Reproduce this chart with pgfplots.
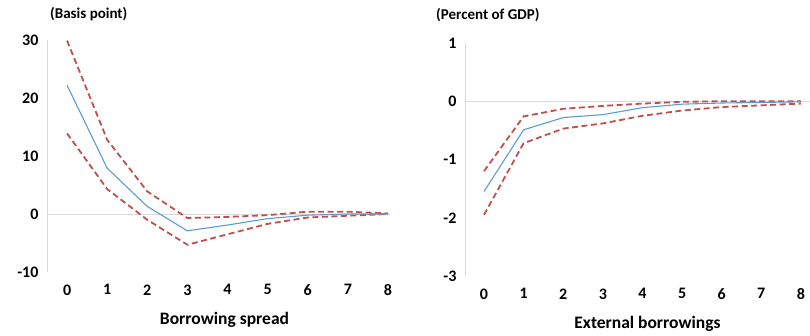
\documentclass[border=0pt]{standalone}
\usepackage{pgfplots}
\pgfplotsset{compat=1.18}
\usepackage{fontspec}
\setmainfont{Carlito}
\definecolor{cblue}{RGB}{91,155,213}
\definecolor{cred}{RGB}{192,80,77}
\definecolor{cgray}{RGB}{217,217,217}
\pgfplotsset{
  irf/.style={
    scale only axis,
    axis lines*=left,
    x axis line style={draw=none},
    y axis line style={cgray, line width=0.8pt},
    major tick length=0pt,
    xtick={0,...,8},
    tick label style={font=\fontsize{16}{18}\selectfont\bfseries},
    /pgf/number format/assume math mode=true,
    xticklabel style={yshift=-9pt},
    yticklabel style={xshift=-5pt},
    clip=false,
  },
  mid/.style={cblue, line width=1.1pt, mark=none},
  band/.style={cred, line width=1.8pt, dash pattern=on 6pt off 3.5pt, mark=none},
}
\begin{document}
\begin{tikzpicture}
\useasboundingbox (0,0) rectangle (810pt,335pt);
\begin{axis}[irf, at={(47pt,63pt)}, width=343pt, height=232pt,
  xmin=-0.5, xmax=8.05, ymin=-10, ymax=30, ytick={-10,0,10,20,30},
  xlabel={Borrowing spread}, xlabel style={font=\fontsize{17.5}{20}\selectfont\bfseries, yshift=-10pt, xshift=6pt}]
\addplot[cgray, line width=0.8pt] coordinates {(-0.5,0) (8.05,0)};
\addplot[band] coordinates {(0,29.9) (1,12.8) (2,3.9) (3,-0.7) (4,-0.5) (5,-0.2) (6,0.4) (7,0.4) (8,0.1)};
\addplot[band] coordinates {(0,13.9) (1,4.3) (2,-1.0) (3,-5.3) (4,-3.5) (5,-1.7) (6,-0.6) (7,-0.3) (8,0)};
\addplot[mid] coordinates {(0,22.2) (1,7.9) (2,1.3) (3,-2.9) (4,-1.9) (5,-0.8) (6,-0.2) (7,0) (8,0)};
\end{axis}
\begin{axis}[irf, at={(465pt,59pt)}, width=345pt, height=233pt,
  xmin=-0.48, xmax=8.23, ymin=-3, ymax=1, ytick={-3,-2,-1,0,1},
  xlabel={External borrowings}, xlabel style={font=\fontsize{17.5}{20}\selectfont\bfseries, yshift=-10pt, xshift=10pt}]
\addplot[cgray, line width=0.8pt] coordinates {(-0.48,0) (8.23,0)};
\addplot[band] coordinates {(0,-1.2) (1,-0.26) (2,-0.13) (3,-0.08) (4,-0.04) (5,-0.01) (6,0) (7,0) (8,0)};
\addplot[band] coordinates {(0,-1.95) (1,-0.72) (2,-0.47) (3,-0.38) (4,-0.25) (5,-0.16) (6,-0.1) (7,-0.07) (8,-0.04)};
\addplot[mid] coordinates {(0,-1.55) (1,-0.49) (2,-0.28) (3,-0.23) (4,-0.11) (5,-0.05) (6,-0.03) (7,-0.02) (8,-0.01)};
\end{axis}
\node[anchor=west, inner sep=0pt, font=\fontsize{15}{18}\selectfont\bfseries] at (50pt,321pt) {(Basis point)};
\node[anchor=west, inner sep=0pt, font=\fontsize{15}{18}\selectfont\bfseries] at (436pt,320pt) {(Percent of GDP)};
\end{tikzpicture}
\end{document}
